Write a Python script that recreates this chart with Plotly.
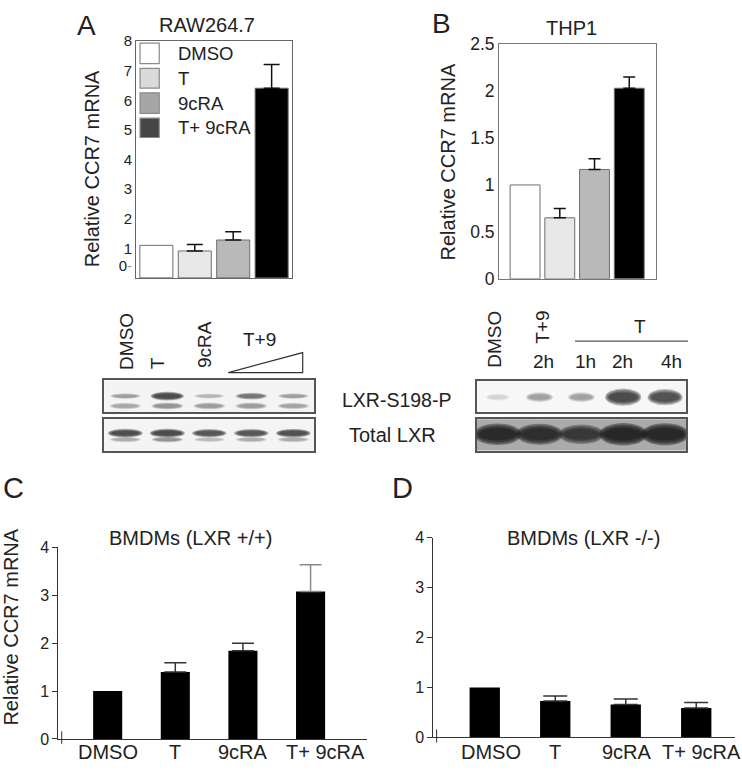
import plotly.graph_objects as go

W, H = 742, 773
def X(p): return p / W
def Y(p): return 1 - p / H

# ---------------- data ----------------
cats = ["DMSO", "T", "9cRA", "T+ 9cRA"]

raw_vals = [1.10, 0.91, 1.28, 6.41]          # RAW264.7
raw_err = [None, 0.22, 0.28, 0.80]
raw_tickvals = [0.42, 1, 2, 3, 4, 5, 6, 7, 8]
raw_ticktext = ["0<span style='color:#999'>-</span>", "1", "2", "3", "4", "5", "6", "7", "8"]

thp_vals = [1.00, 0.65, 1.165, 2.03]          # THP1
thp_err = [None, 0.10, 0.115, 0.12]
thp_tickvals = [0, 0.5, 1, 1.5, 2, 2.5]
thp_ticktext = ["0", "0.5", "1", "1.5", "2", "2.5"]

wt_vals = [1.00, 1.40, 1.84, 3.08]            # BMDMs LXR +/+
wt_err = [None, 0.19, 0.16, 0.56]
ko_vals = [1.00, 0.73, 0.66, 0.59]            # BMDMs LXR -/-
ko_err = [None, 0.10, 0.11, 0.11]
bmdm_tickvals = [0, 1, 2, 3, 4]

# western blot band intensities (0..1), 5 lanes each
blotA_lanes = ["DMSO", "T", "9cRA", "T+9 low", "T+9 high"]
blotA_phospho_upper = [0.35, 0.95, 0.25, 0.60, 0.35]
blotA_phospho_lower = [0.38, 0.50, 0.45, 0.45, 0.40]
blotA_total_main = [0.92, 0.95, 0.85, 0.85, 0.90]
blotA_total_minor = [0.28, 0.40, 0.22, 0.28, 0.30]

blotB_lanes = ["DMSO", "T+9 2h", "T 1h", "T 2h", "T 4h"]
blotB_phospho = [0.12, 0.35, 0.35, 0.95, 0.88]
blotB_total = [0.90, 0.85, 0.70, 0.97, 0.95]

# ---------------- styles ----------------
bar_fill = ["#ffffff", "#e8e8e8", "#b9b9b9", "#000000"]
legend_fill = ["#ffffff", "#dadada", "#a6a6a6", "#454545"]
FONT = "Arial, Liberation Sans, sans-serif"
TXT = "#222222"

fig = go.Figure()

def add_bars(vals, errs, xa, ya, width, fills, line_col, line_w, cap, err_cols):
    for i, c in enumerate(cats):
        ey = None
        if errs[i] is not None:
            ey = dict(type="data", symmetric=False, array=[errs[i]], arrayminus=[0],
                      color=err_cols[i], thickness=1.5, width=cap)
        fig.add_trace(go.Bar(x=[c], y=[vals[i]], xaxis=xa, yaxis=ya, width=width,
                             marker=dict(color=fills[i], line=dict(color=line_col, width=line_w)),
                             error_y=ey, showlegend=False, hoverinfo="x+y"))

add_bars(raw_vals, raw_err, "x", "y", 0.86, bar_fill, "#6e6e6e", 1, 8, ["#111"] * 4)
add_bars(thp_vals, thp_err, "x2", "y2", 0.86, bar_fill, "#6e6e6e", 1, 6, ["#111"] * 4)
add_bars(wt_vals, wt_err, "x3", "y3", 0.43, ["#000"] * 4, "#000", 0, 11,
         ["#333", "#333", "#333", "#8a8a8a"])
add_bars(ko_vals, ko_err, "x4", "y4", 0.43, ["#000"] * 4, "#000", 0, 12, ["#333"] * 4)

# invisible traces so the blot axes exist
for k in range(5, 9):
    fig.add_trace(go.Scatter(x=list(range(5)), y=[0.5] * 5, mode="markers",
                             marker=dict(opacity=0), xaxis=f"x{k}", yaxis=f"y{k}",
                             showlegend=False, hoverinfo="skip"))

shapes = []
annotations = []

def ann(text, px, py, size, angle=0, xanchor="center", color=TXT):
    annotations.append(dict(text=text, x=X(px), y=Y(py), xref="paper", yref="paper",
                            showarrow=False, textangle=angle, xanchor=xanchor, yanchor="middle",
                            font=dict(family=FONT, size=size, color=color)))

# panel letters and titles
ann("A", 86.7, 16, 28)
ann("B", 441.7, 14, 28)
ann("C", 13.5, 491, 29)
ann("D", 402.5, 491, 29)
ann("RAW264.7", 206.7, 15, 20)
ann("THP1", 571.7, 18.3, 20)
ann("BMDMs (LXR +/+)", 190, 541.7, 20)
ann("BMDMs (LXR -/-)", 583.3, 541.7, 20)
ann("Relative CCR7 mRNA", 92, 163.5, 20, angle=-90)
ann("Relative CCR7 mRNA", 448, 156.5, 20, angle=-90)
ann("Relative CCR7 mRNA", 11, 634, 20, angle=-90)

# category labels under panels C and D
label_shift_c = [0, 0, 0, 15]
label_shift_d = [6, 0, 1, 5]
for k, shifts in ((3, label_shift_c), (4, label_shift_d)):
    for i, c in enumerate(cats):
        annotations.append(dict(text=c, x=c, y=Y(761.5), xref=f"x{k}", yref="paper",
                                xshift=shifts[i], showarrow=False, xanchor="center", yanchor="middle",
                                font=dict(family=FONT, size=20, color=TXT)))

# legend of panel A (drawn inside the plot)
leg_rows = [(0.992, 0.905), (0.885, 0.802), (0.782, 0.695), (0.675, 0.593)]
for i, c in enumerate(cats):
    y0, y1 = leg_rows[i]
    shapes.append(dict(type="rect", xref="x domain", yref="y domain",
                       x0=0.026, x1=0.149, y0=y1, y1=y0,
                       fillcolor=legend_fill[i], line=dict(color="#8a8a8a", width=1.2)))
    annotations.append(dict(text=c, x=0.256, y=(y0 + y1) / 2, xref="x domain", yref="y domain",
                            showarrow=False, xanchor="left", yanchor="middle",
                            font=dict(family=FONT, size=18.5, color=TXT)))

# blot lane labels
ann("DMSO", 126.7, 340, 19, angle=-90)
ann("T", 157.7, 363, 19, angle=-90)
ann("9cRA", 204, 344, 19, angle=-90)
ann("T+9", 259, 338, 19)
shapes.append(dict(type="path", xref="paper", yref="paper",
                   path=f"M {X(228.3)},{Y(372.3)} L {X(302.7)},{Y(351.7)} L {X(302.7)},{Y(372.3)} Z",
                   line=dict(color="#333", width=1.2), fillcolor="rgba(0,0,0,0)"))
ann("DMSO", 495, 338.5, 19, angle=-90)
ann("T+9", 541.7, 325.5, 19, angle=-90)
ann("2h", 543, 360.7, 19)
ann("1h", 585, 360.7, 19)
ann("2h", 622.7, 360.7, 19)
ann("4h", 671.7, 360.7, 19)
ann("T", 640, 325, 19)
shapes.append(dict(type="line", xref="paper", yref="paper",
                   x0=X(575), x1=X(688), y0=Y(340), y1=Y(340),
                   line=dict(color="#555", width=1.2)))
ann("LXR-S198-P", 397, 400, 19.5)
ann("Total LXR", 392, 436.7, 20)

# blot backgrounds and bands
def blot_bg(k, color):
    shapes.append(dict(type="rect", xref=f"x{k} domain", yref=f"y{k} domain",
                       x0=0, x1=1, y0=0, y1=1, fillcolor=color, line=dict(width=0), layer="below"))

def bands(k, intens, yc, hh0, hh1, hw0, hw1, alpha=0.32):
    for i, I in enumerate(intens):
        hh = hh0 + hh1 * I
        hw = hw0 + hw1 * I
        for s in (1.0, 0.85, 0.7, 0.55):
            shapes.append(dict(type="circle", xref=f"x{k}", yref=f"y{k}",
                               x0=i - hw * s ** 0.4, x1=i + hw * s ** 0.4,
                               y0=yc - hh * s, y1=yc + hh * s,
                               fillcolor=f"rgba(25,25,25,{alpha * I:.3f})", line=dict(width=0)))

blot_bg(5, "#f4f4f4")
blot_bg(6, "#f4f4f4")
blot_bg(7, "#f7f7f7")
blot_bg(8, "#ababab")
bands(5, blotA_phospho_upper, 0.50, 0.06, 0.08, 0.34, 0.06)
bands(5, blotA_phospho_lower, 0.19, 0.08, 0.06, 0.36, 0.04, alpha=0.26)
bands(6, blotA_total_minor, 0.36, 0.07, 0.05, 0.36, 0.04)
bands(6, blotA_total_main, 0.56, 0.07, 0.07, 0.36, 0.06)
bands(7, blotB_phospho, 0.47, 0.09, 0.20, 0.26, 0.18)
bands(8, blotB_total, 0.52, 0.20, 0.16, 0.46, 0.12, alpha=0.45)

# left-end small ticks in C and D
for k in (3, 4):
    shapes.append(dict(type="line", xref=f"x{k} domain", yref=f"y{k} domain",
                       x0=0.011, x1=0.011, y0=-0.026, y1=0.04, line=dict(color="#333", width=1)))

# ---------------- axes ----------------
def dom_x(a, b): return [X(a), X(b)]
def dom_y(top, bottom): return [Y(bottom), Y(top)]

common_box = dict(showgrid=False, zeroline=False, showline=True, mirror=True, ticks="")

layout = dict(
    width=W, height=H, autosize=False,
    margin=dict(l=0, r=0, t=0, b=0),
    paper_bgcolor="white", plot_bgcolor="white",
    barmode="overlay", showlegend=False,
    xaxis=dict(domain=dom_x(136, 292), range=[-0.53, 3.53], anchor="y", showticklabels=False,
               categoryorder="array", categoryarray=cats, linecolor="#666", linewidth=1, **common_box),
    yaxis=dict(domain=dom_y(32, 275), range=[0, 8], anchor="x", tickvals=raw_tickvals,
               ticktext=raw_ticktext, tickfont=dict(family=FONT, size=15, color=TXT),
               linecolor="#666", linewidth=1, **common_box),
    xaxis2=dict(domain=dom_x(499, 656), range=[-0.75, 3.77], anchor="y2", showticklabels=False,
                categoryorder="array", categoryarray=cats, linecolor="#777", linewidth=1, **common_box),
    yaxis2=dict(domain=dom_y(35, 276), range=[0, 2.5], anchor="x2", tickvals=thp_tickvals,
                ticktext=thp_ticktext, tickfont=dict(family=FONT, size=17.5, color=TXT),
                linecolor="#777", linewidth=1, **common_box),
    xaxis3=dict(domain=dom_x(58.3, 366.7), range=[-0.73, 3.83], anchor="y3",
                categoryorder="array", categoryarray=cats, showgrid=False, zeroline=False,
                showline=True, linecolor="#333", linewidth=1, ticks="", showticklabels=False),
    yaxis3=dict(domain=dom_y(551.7, 748.3), range=[0, 4], anchor="x3", tickvals=bmdm_tickvals,
                showgrid=False, zeroline=False, showline=True, linecolor="#333", linewidth=1,
                ticks="outside", ticklen=5, tickcolor="#333",
                tickfont=dict(family=FONT, size=16, color=TXT)),
    xaxis4=dict(domain=dom_x(433.3, 735), range=[-0.73, 3.55], anchor="y4",
                categoryorder="array", categoryarray=cats, showgrid=False, zeroline=False,
                showline=True, linecolor="#333", linewidth=1, ticks="", showticklabels=False),
    yaxis4=dict(domain=dom_y(541.7, 746.7), range=[0, 4], anchor="x4", tickvals=bmdm_tickvals,
                showgrid=False, zeroline=False, showline=True, linecolor="#333", linewidth=1,
                ticks="outside", ticklen=5, tickcolor="#333",
                tickfont=dict(family=FONT, size=16, color=TXT)),
    shapes=shapes, annotations=annotations,
)

blot_boxes = {5: (104.3, 314.3, 380, 412.7), 6: (104.3, 314.3, 420, 452.7),
              7: (476.7, 686, 380.7, 412.3), 8: (476.7, 686, 420, 452.3)}
for k, (x0, x1, top, bot) in blot_boxes.items():
    layout[f"xaxis{k}"] = dict(domain=dom_x(x0, x1), range=[-0.5, 4.5], anchor=f"y{k}",
                               showticklabels=False, linecolor="#555", linewidth=1.5, **common_box)
    layout[f"yaxis{k}"] = dict(domain=dom_y(top, bot), range=[0, 1], anchor=f"x{k}",
                               showticklabels=False, linecolor="#555", linewidth=1.5, **common_box)

fig.update_layout(**layout)
fig.write_html("out.html", config={"displayModeBar": False},
               post_script="document.body.style.margin='0';document.body.style.overflow='hidden';")
